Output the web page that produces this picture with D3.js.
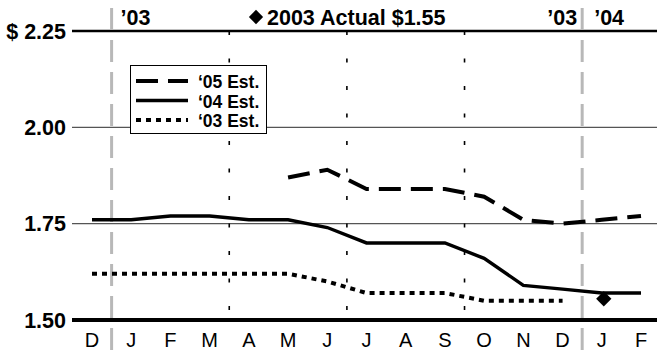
<!DOCTYPE html>
<html><head><meta charset="utf-8">
<script src="https://cdn.jsdelivr.net/npm/d3@7"></script>
<style>body{margin:0;background:#fff}svg{display:block}</style>
</head><body>
<svg id="c" width="657" height="352"></svg>
<script>
const months = ["D","J","F","M","A","M","J","J","A","S","O","N","D","J","F"];
const est05 = [null,null,null,null,null,1.87,1.89,1.84,1.84,1.84,1.82,1.76,1.75,1.76,1.77];
const est04 = [1.76,1.76,1.77,1.77,1.76,1.76,1.74,1.70,1.70,1.70,1.66,1.59,1.58,1.57,1.57];
const est03 = [1.62,1.62,1.62,1.62,1.62,1.62,1.60,1.57,1.57,1.57,1.55,1.55,1.55,null,null];
const actualIdx = 13, actualVal = 1.555;
const yTicks = [1.50,1.75,2.00,2.25];
const yLabels = ["1.50","1.75","2.00","$ 2.25"];
const legendLabels = ["\u201805 Est.","\u201804 Est.","\u201803 Est."];
const topTitle = "2003 Actual $1.55";

const svg = d3.select("#c");
const font = "Liberation Sans, Arial, sans-serif";
const x = d3.scalePoint().domain(d3.range(months.length)).range([92,641]);
const y = d3.scaleLinear().domain([1.5,2.25]).range([320,31]);
const mid = (a,b)=>(x(a)+x(b))/2;

// grid lines
svg.selectAll(".grid").data(yTicks).join("line")
  .attr("x1",72).attr("x2",657).attr("y1",d=>y(d)).attr("y2",d=>y(d))
  .attr("stroke", d=> (d===1.5||d===2.25)?"#000":"#555")
  .attr("stroke-width", d=> d===1.5?4 : d===2.25?2.5 : 1.2);

// y labels
svg.selectAll(".yl").data(yTicks).join("text")
  .attr("x",66).attr("y",d=>y(d)+7.5).attr("text-anchor","end")
  .attr("font-family",font).attr("font-weight","bold").attr("font-size",21.5)
  .text((d,i)=>yLabels[i]);

// quarter dotted lines
const quarters=[[3,4],[6,7],[9,10]];
svg.selectAll(".q").data(quarters).join("line")
  .attr("x1",d=>mid(d[0],d[1])).attr("x2",d=>mid(d[0],d[1]))
  .attr("y1",31).attr("y2",320)
  .attr("stroke","#000").attr("stroke-width",1.6)
  .attr("stroke-dasharray","4,23.5");

// year boundaries (gray dashed)
const years=[[0,1],[12,13]];
svg.selectAll(".yr").data(years).join("line")
  .attr("x1",d=>mid(d[0],d[1])).attr("x2",d=>mid(d[0],d[1]))
  .attr("y1",8).attr("y2",352)
  .attr("stroke","#b8b8b8").attr("stroke-width",3)
  .attr("stroke-dasharray","22,10");

// month labels
svg.selectAll(".m").data(months).join("text")
  .attr("x",(d,i)=>x(i)).attr("y",347).attr("text-anchor","middle")
  .attr("font-family",font).attr("font-size",20).text(d=>d);

// lines
const line = d3.line().defined(d=>d!=null).x((d,i)=>x(i)).y(d=>y(d));
const series = [
  {data:est05, dash:"22,10", w:4},
  {data:est04, dash:null, w:3.4},
  {data:est03, dash:"5,5", w:4}
];
series.forEach(s=>{
  svg.append("path").attr("d",line(s.data)).attr("fill","none")
    .attr("stroke","#000").attr("stroke-width",s.w)
    .attr("stroke-dasharray",s.dash);
});

// actual diamond
svg.append("path").attr("d",d3.symbol().type(d3.symbolDiamond2).size(150)())
  .attr("transform",`translate(${x(actualIdx)+2},${y(actualVal)})`).attr("fill","#000");

// top labels
const tl = svg.append("g").attr("font-family",font).attr("font-weight","bold").attr("font-size",21.5);
tl.append("text").attr("x",mid(0,1)+9).attr("y",25).text("\u201903");
tl.append("text").attr("x",mid(12,13)-5).attr("y",25).attr("text-anchor","end").text("\u201903");
tl.append("text").attr("x",mid(12,13)+12).attr("y",25).text("\u201904");
svg.append("path").attr("d",d3.symbol().type(d3.symbolDiamond2).size(130)())
  .attr("transform","translate(256,17)").attr("fill","#000");
tl.append("text").attr("x",267).attr("y",25).text(topTitle);

// legend
const lg = svg.append("g");
lg.append("rect").attr("x",130.5).attr("y",65.5).attr("width",136).attr("height",68)
  .attr("fill","#fff").attr("stroke","#000").attr("stroke-width",1);
series.forEach((s,i)=>{
  const yy = 81 + i*19.5;
  lg.append("line").attr("x1",136).attr("x2",188).attr("y1",yy).attr("y2",yy)
    .attr("stroke","#000").attr("stroke-width",s.w)
    .attr("stroke-dasharray",s.dash);
  lg.append("text").attr("x",198).attr("y",yy+7).attr("font-family",font)
    .attr("font-weight","bold").attr("font-size",17.5).text(legendLabels[i]);
});
</script>
</body></html>
